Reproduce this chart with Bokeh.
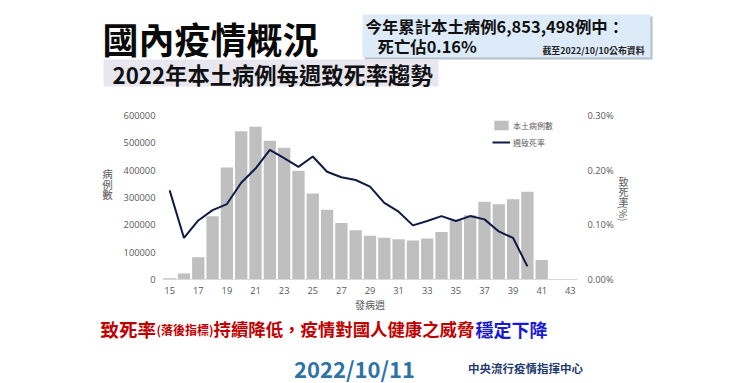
import math
from bokeh.plotting import figure
from bokeh.layouts import column, row
from bokeh.models import (Range1d, LinearAxis, Legend, LegendItem, FixedTicker, CustomJSTickFormatter)
from bokeh.core.properties import value
from bokeh.embed import file_html
from bokeh.resources import INLINE

# ---------------- data ----------------
weeks = list(range(15, 42))
cases = [5000, 22000, 81000, 231000, 410000, 542000, 559000, 508000, 482000, 398000,
         315000, 255000, 207000, 180000, 160000, 153000, 147000, 143000, 150000, 174000,
         217000, 235000, 284000, 275000, 294000, 321000, 71000]
rate_weeks = list(range(15, 41))
rate_pct = [0.163, 0.076, 0.108, 0.127, 0.138, 0.177, 0.203, 0.237, 0.222, 0.206,
            0.225, 0.197, 0.187, 0.182, 0.170, 0.140, 0.124, 0.099, 0.107, 0.116,
            0.107, 0.116, 0.110, 0.088, 0.076, 0.024]
x_ticks = list(range(15, 44, 2))
left_ticks = [0, 100000, 200000, 300000, 400000, 500000, 600000]
right_ticks = [0.0, 0.1, 0.2, 0.3]

series_names = ["本土病例數", "週致死率"]
x_title = "發病週"
left_title = "病例數"
right_title = "致死率"
right_unit = "(%)"
main_title = "國內疫情概況"
sub_title = "2022年本土病例每週致死率趨勢"
note_line1 = "今年累計本土病例6,853,498例中："
note_line2 = "死亡佔0.16%"
note_source = "截至2022/10/10公布資料"
foot_parts = ["致死率", "(落後指標)", "持續降低，疫情對國人健康之威脅", "穩定下降"]
foot_date = "2022/10/11"
foot_org = "中央流行疫情指揮中心"

# ---------------- layout geometry (image pixels) ----------------
W, H = 730, 383
HEAD_H, FOOT_H = 95, 69
MID_H = H - HEAD_H - FOOT_H          # 219
LEFT_W, RIGHT_W = 118, 114
CHART_W = W - LEFT_W - RIGHT_W       # 498
FL, FR, FT, FB = 162, 578, 115, 279  # chart frame edges in image pixels
B_TOP = FT - HEAD_H
B_BOT = (HEAD_H + MID_H) - FB

CJK = "Noto Sans CJK TC"
TICK_FONT = "Open Sans"
GREY_TXT = "#595959"


def blank(w, h, y_img_top, y_img_bottom, left_off=0, b_top=0, b_bot=0):
    """Figure whose frame maps image pixels [y_img_top, y_img_bottom] vertically."""
    fh = y_img_bottom - y_img_top
    f = figure(width=w, height=h, output_backend="svg", toolbar_location=None,
               x_range=Range1d(0, w), y_range=Range1d(0, fh),
               x_axis_type=None, y_axis_type=None,
               min_border_left=0, min_border_right=0,
               min_border_top=b_top, min_border_bottom=b_bot,
               background_fill_color="white", border_fill_color="white")
    f.outline_line_color = None
    f.grid.visible = False
    f._bot = y_img_bottom
    f._left = left_off
    return f


def put(f, text, X, Y, size, color="black", bold=False, align="left", angle=0.0):
    f.text(x=[X - f._left], y=[f._bot - Y], text=[text], text_font=value(CJK),
           text_font_size=value(size), text_color=color,
           text_font_style="bold" if bold else "normal",
           text_align=align, text_baseline="middle", angle=angle)


def box(f, l, r, t, b, color):
    f.quad(left=[l - f._left], right=[r - f._left], top=[f._bot - t], bottom=[f._bot - b],
           fill_color=color, line_color=None)


# ---------------- header ----------------
head = blank(W, HEAD_H, 0, HEAD_H)
box(head, 364, 652, 16, 59, "#b4bdca")
box(head, 362, 650, 14, 57, "#ddebf8")
box(head, 103, 438, 59, 86, "#e8e7ef")
put(head, main_title, 102, 37, "36px", color="#0a0a0a", bold=True)
put(head, note_line1, 365, 25, "16.4px", color="#111111", bold=True)
put(head, note_line2, 377, 45.5, "16.4px", color="#111111", bold=True)
put(head, note_source, 644, 49.5, "8.9px", color="#222222", bold=True, align="right")
put(head, sub_title, 112, 73, "22.3px", color="#111111", bold=True)

# ---------------- chart ----------------
p = figure(width=CHART_W, height=MID_H, output_backend="svg", toolbar_location=None,
           x_range=Range1d(14.5, 43.5), y_range=Range1d(0, 600000),
           min_border_left=FL - LEFT_W, min_border_right=(LEFT_W + CHART_W) - FR,
           min_border_top=B_TOP, min_border_bottom=B_BOT,
           background_fill_color="white", border_fill_color="white")
p.outline_line_color = None
p.grid.grid_line_color = None
p.extra_y_ranges = {"rate": Range1d(0, 0.3)}

bars = p.vbar(x=weeks, top=cases, width=0.86, fill_color="#bfbfbf", line_color=None)
line = p.line(x=rate_weeks, y=rate_pct, y_range_name="rate", line_color="#0f1a45", line_width=2)

xa = p.xaxis[0]
xa.ticker = FixedTicker(ticks=x_ticks)
xa.axis_line_color = "#d9d9d9"
xa.major_tick_line_color = None
xa.minor_tick_line_color = None
xa.major_tick_out = 0
xa.major_tick_in = 0
xa.major_label_text_font = TICK_FONT
xa.major_label_text_font_size = "9.3px"
xa.major_label_text_color = GREY_TXT
xa.major_label_standoff = 7
xa.axis_label = x_title
xa.axis_label_text_font = CJK
xa.axis_label_text_font_style = "normal"
xa.axis_label_text_font_size = "10px"
xa.axis_label_text_color = GREY_TXT
xa.axis_label_standoff = 0

ya = p.yaxis[0]
ya.ticker = FixedTicker(ticks=left_ticks)
ya.axis_line_color = None
ya.major_tick_line_color = None
ya.minor_tick_line_color = None
ya.major_tick_out = 0
ya.major_tick_in = 0
ya.major_label_text_font = TICK_FONT
ya.major_label_text_font_size = "9.3px"
ya.major_label_text_color = GREY_TXT
ya.major_label_standoff = 7
ya.formatter = CustomJSTickFormatter(code="return tick.toFixed(0);")

ra = LinearAxis(y_range_name="rate", ticker=FixedTicker(ticks=right_ticks))
ra.axis_line_color = None
ra.major_tick_line_color = None
ra.minor_tick_line_color = None
ra.major_tick_out = 0
ra.major_tick_in = 0
ra.major_label_text_font = TICK_FONT
ra.major_label_text_font_size = "9.3px"
ra.major_label_text_color = GREY_TXT
ra.major_label_standoff = 10
ra.formatter = CustomJSTickFormatter(code="return tick.toFixed(2) + '%';")
p.add_layout(ra, "right")

legend = Legend(items=[LegendItem(label=series_names[0], renderers=[bars]),
                       LegendItem(label=series_names[1], renderers=[line])],
                location=(330, 131), orientation="vertical",
                background_fill_alpha=0, border_line_color=None,
                label_text_font=CJK, label_text_font_size="8px", label_text_color=GREY_TXT,
                glyph_width=18, glyph_height=12, label_height=12, spacing=5, padding=0,
                margin=0, label_standoff=3)
p.add_layout(legend)

# ---------------- side label panels (frames aligned with the chart frame) ----------------
left = blank(LEFT_W, MID_H, FT, FB, 0, B_TOP, B_BOT)
for i, ch in enumerate(left_title):
    put(left, ch, 107, 173 + i * 10.5, "10.5px", color=GREY_TXT, align="center")

right = blank(RIGHT_W, MID_H, FT, FB, LEFT_W + CHART_W, B_TOP, B_BOT)
for i, ch in enumerate(right_title):
    put(right, ch, 623, 181 + i * 9.8, "10px", color=GREY_TXT, align="center")
put(right, right_unit, 623, 213, "10px", color=GREY_TXT, align="center", angle=-math.pi / 2)

# ---------------- footer ----------------
foot = blank(W, FOOT_H, HEAD_H + MID_H, H)
RED = "#c00000"
put(foot, foot_parts[0], 100, 328, "18.5px", color=RED, bold=True)
put(foot, foot_parts[1], 156, 329, "12px", color=RED, bold=True)
put(foot, foot_parts[2], 213, 328, "17.4px", color=RED, bold=True)
put(foot, foot_parts[3], 475, 328, "18px", color="#1a1ad6", bold=True)
put(foot, foot_date, 354, 367, "22px", color="#2f73a6", bold=True, align="center")
put(foot, foot_org, 525, 367, "11.5px", color="#1f3a70", bold=True, align="center")

layout = column(head, row(left, p, right, spacing=0), foot, spacing=0)
open("out.html", "w").write(file_html(layout, INLINE))
